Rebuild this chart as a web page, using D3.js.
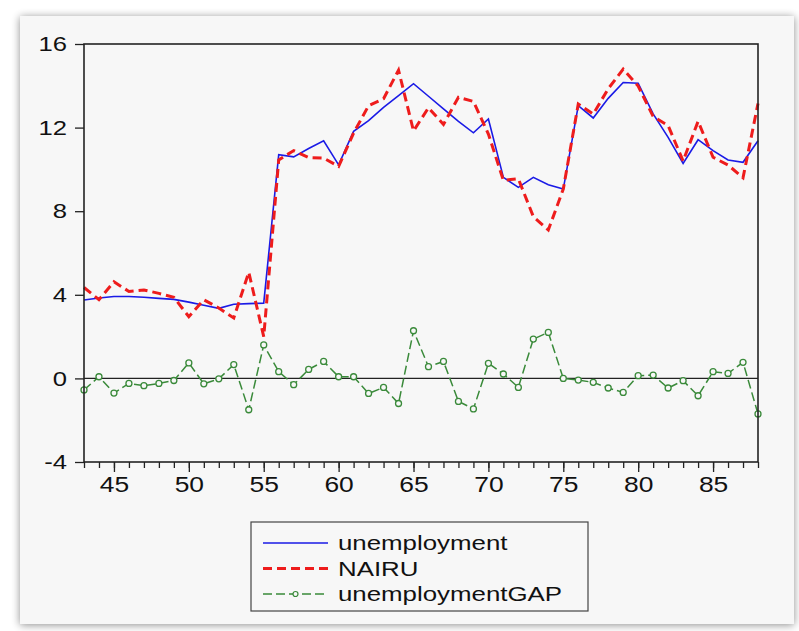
<!DOCTYPE html>
<html>
<head>
<meta charset="utf-8">
<script src="https://cdn.jsdelivr.net/npm/d3@7"></script>
<style>
    body { margin: 0; background: #fff; }
    svg { display: block; font-family: "Liberation Sans", Arial, sans-serif; }
</style>
</head>
<body>
<svg width="799" height="631"></svg>
<script>
// years 1943..1988 shown as two digits
var years = d3.range(43, 89);

var unemployment = [3.75, 3.85, 3.92, 3.92, 3.88, 3.83, 3.78, 3.65, 3.5, 3.35,
    3.55, 3.58, 3.6, 10.7, 10.6, 11.0, 11.37, 10.22, 11.82, 12.33,
    12.97, 13.53, 14.1, 13.5, 12.9, 12.3, 11.75, 12.41, 9.62, 9.14,
    9.62, 9.27, 9.06, 13.05, 12.46, 13.4, 14.16, 14.12, 12.66, 11.53,
    10.29, 11.42, 10.9, 10.45, 10.34, 11.37];

var nairu = [4.35, 3.77, 4.62, 4.16, 4.23, 4.07, 3.88, 2.95, 3.76, 3.37,
    2.89, 5.08, 2.0, 10.45, 10.9, 10.57, 10.54, 10.14, 11.74, 13.05,
    13.38, 14.75, 11.84, 12.95, 12.15, 13.45, 13.25, 11.69, 9.48, 9.55,
    7.74, 7.1, 9.06, 13.13, 12.65, 13.86, 14.8, 13.99, 12.53, 12.1,
    10.4, 12.3, 10.58, 10.21, 9.6, 13.15];

var gap = [-0.55, 0.08, -0.7, -0.24, -0.35, -0.24, -0.1, 0.74, -0.26, -0.02,
    0.66, -1.5, 1.6, 0.32, -0.3, 0.43, 0.81, 0.08, 0.08, -0.72,
    -0.43, -1.2, 2.28, 0.56, 0.81, -1.1, -1.46, 0.72, 0.21, -0.43,
    1.88, 2.2, 0.0, -0.08, -0.19, -0.46, -0.67, 0.13, 0.16, -0.46,
    -0.11, -0.83, 0.32, 0.24, 0.77, -1.7];

var yTicks = [-4, 0, 4, 8, 12, 16];
var xLabels = [45, 50, 55, 60, 65, 70, 75, 80, 85];
var seriesNames = ["unemployment", "NAIRU", "unemploymentGAP"];

var svg = d3.select("svg");

var defs = svg.append("defs");
var shadow = defs.append("filter")
    .attr("id", "shadow")
    .attr("x", "-5%").attr("y", "-5%")
    .attr("width", "110%").attr("height", "110%");
shadow.append("feGaussianBlur")
    .attr("in", "SourceAlpha")
    .attr("stdDeviation", 4);
shadow.append("feOffset")
    .attr("dx", 0).attr("dy", 1)
    .attr("result", "blur");
shadow.append("feComponentTransfer")
    .append("feFuncA").attr("type", "linear").attr("slope", 0.45);
var merge = shadow.append("feMerge");
merge.append("feMergeNode");
merge.append("feMergeNode").attr("in", "SourceGraphic");

// framed panel
svg.append("rect")
    .attr("x", 20).attr("y", 16)
    .attr("width", 774).attr("height", 608)
    .attr("fill", "#f7f7f7")
    .attr("filter", "url(#shadow)");

var margin = {left: 84, right: 758, top: 44, bottom: 462};

var x = d3.scaleLinear()
    .domain([43, 88])
    .range([margin.left, margin.right]);

var y = d3.scaleLinear()
    .domain([-4, 16])
    .range([margin.bottom, margin.top]);

// the original picture is a little stretched sideways, so widen the text
function widen(sel, k) {
    sel.each(function () {
        var w = this.getComputedTextLength();
        d3.select(this)
            .attr("textLength", w * k)
            .attr("lengthAdjust", "spacingAndGlyphs");
    });
}

// zero line
svg.append("line")
    .attr("x1", margin.left).attr("x2", margin.right)
    .attr("y1", y(0)).attr("y2", y(0))
    .attr("stroke", "#222")
    .attr("stroke-width", 1.2);

// left axis
var yAxis = svg.append("g")
    .attr("transform", "translate(" + margin.left + ",0)")
    .call(d3.axisLeft(y).tickValues(yTicks).tickSize(9).tickPadding(8)
        .tickFormat(function (d) { return String(d); }));
yAxis.select(".domain").remove();
yAxis.selectAll("text")
    .attr("font-size", 21)
    .attr("fill", "#111")
    .attr("font-family", "Liberation Sans, Arial, sans-serif")
    .call(widen, 1.22);
yAxis.selectAll("line").attr("stroke", "#222").attr("stroke-width", 1.3);

// bottom axis: minor ticks each year, longer ones every five
var xMinor = svg.append("g")
    .attr("transform", "translate(0," + margin.bottom + ")")
    .call(d3.axisBottom(x).tickValues(years).tickSize(6).tickFormat(""));
xMinor.select(".domain").remove();
xMinor.selectAll("line").attr("stroke", "#222").attr("stroke-width", 1.3);

var xAxis = svg.append("g")
    .attr("transform", "translate(0," + margin.bottom + ")")
    .call(d3.axisBottom(x).tickValues(xLabels).tickSize(10).tickPadding(4)
        .tickFormat(function (d) { return String(d); }));
xAxis.select(".domain").remove();
xAxis.selectAll("text")
    .attr("font-size", 22)
    .attr("fill", "#111")
    .attr("font-family", "Liberation Sans, Arial, sans-serif")
    .call(widen, 1.2);
xAxis.selectAll("line").attr("stroke", "#222").attr("stroke-width", 1.3);

// lines
var lineFn = function (values) {
    return d3.line()
        .x(function (d, i) { return x(years[i]); })
        .y(function (d) { return y(d); })(values);
};

svg.append("path")
    .attr("d", lineFn(gap))
    .attr("fill", "none")
    .attr("stroke", "#3a8a3a")
    .attr("stroke-width", 1.5)
    .attr("stroke-dasharray", "9,4");

svg.append("g")
    .selectAll("circle")
    .data(gap)
    .enter().append("circle")
    .attr("cx", function (d, i) { return x(years[i]); })
    .attr("cy", function (d) { return y(d); })
    .attr("r", 3)
    .attr("fill", "#f7f7f7")
    .attr("stroke", "#3a8a3a")
    .attr("stroke-width", 1.3);

svg.append("path")
    .attr("d", lineFn(unemployment))
    .attr("fill", "none")
    .attr("stroke", "#1a1ae6")
    .attr("stroke-width", 1.6);

svg.append("path")
    .attr("d", lineFn(nairu))
    .attr("fill", "none")
    .attr("stroke", "#ee1c1c")
    .attr("stroke-width", 3)
    .attr("stroke-dasharray", "9,5");

// plot frame
svg.append("rect")
    .attr("x", margin.left).attr("y", margin.top)
    .attr("width", margin.right - margin.left)
    .attr("height", margin.bottom - margin.top)
    .attr("fill", "none")
    .attr("stroke", "#222")
    .attr("stroke-width", 1.6);

// legend
var legend = svg.append("g").attr("transform", "translate(251,522)");
legend.append("rect")
    .attr("width", 337).attr("height", 89)
    .attr("fill", "#f7f7f7")
    .attr("stroke", "#444")
    .attr("stroke-width", 1.2);

var rows = legend.selectAll(".row")
    .data(seriesNames)
    .enter().append("g")
    .attr("class", "row")
    .attr("transform", function (d, i) { return "translate(0," + (21 + i * 25.5) + ")"; });

rows.append("line")
    .attr("x1", 12).attr("x2", 77)
    .attr("stroke", function (d, i) { return ["#1a1ae6", "#ee1c1c", "#3a8a3a"][i]; })
    .attr("stroke-width", function (d, i) { return [1.6, 3, 1.5][i]; })
    .attr("stroke-dasharray", function (d, i) { return [null, "9,5", "9,4"][i]; });

rows.filter(function (d, i) { return i === 2; })
    .append("circle")
    .attr("cx", 44.5).attr("r", 2.5)
    .attr("fill", "#f7f7f7")
    .attr("stroke", "#3a8a3a")
    .attr("stroke-width", 1.2);

rows.append("text")
    .attr("x", 87)
    .attr("dy", "0.35em")
    .attr("font-size", 21)
    .attr("fill", "#111")
    .text(function (d) { return d; })
    .call(widen, 1.23);
</script>
</body>
</html>
